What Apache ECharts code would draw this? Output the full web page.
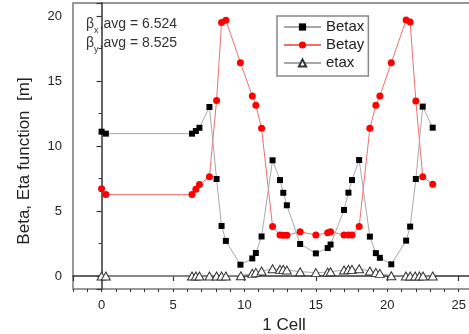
<!DOCTYPE html>
<html>
<head>
<meta charset="utf-8">
<script src="https://cdn.jsdelivr.net/npm/echarts@6/dist/echarts.min.js"></script>
<style>
  html, body { margin: 0; padding: 0; background: #fff; }
  #chart { width: 469px; height: 334px; }
</style>
</head>
<body>
<div id="chart"></div>
<script>
// Longitudinal positions along one cell [m]
const sPos = [0, 0.3, 6.33, 6.6, 6.85, 7.55, 8.05, 8.4, 8.7, 9.72, 10.55, 10.8, 11.2, 11.97,
  12.49, 12.72, 12.97, 13.9, 15.0, 15.83, 16.03, 16.97, 17.28, 17.53, 18.03, 18.78, 19.2,
  19.48, 20.28, 21.32, 21.6, 22.0, 22.48, 23.18];

// Horizontal beta function [m]
const betax = [11.1, 10.95, 10.95, 11.15, 11.4, 13.0, 7.46, 3.85, 2.7, 0.87, 1.35, 1.77, 3.04, 8.9,
  7.38, 6.4, 5.44, 2.46, 1.74, 2.15, 2.42, 5.08, 6.41, 7.38, 8.92, 3.03, 1.76,
  1.4, 0.9, 2.72, 3.8, 7.46, 13.03, 11.41];

// Vertical beta function [m]
const betay = [6.72, 6.26, 6.26, 6.67, 7.03, 7.64, 13.5, 19.5, 19.68, 16.4, 13.85, 13.13, 11.36, 3.8,
  3.15, 3.13, 3.13, 3.41, 3.15, 3.33, 3.41, 3.15, 3.15, 3.15, 3.8, 11.36, 13.13,
  13.85, 16.4, 19.7, 19.54, 13.46, 7.64, 7.05];

// Horizontal dispersion [m]
const etaPos = [0, 0.3, 6.33, 6.6, 6.85, 7.55, 8.05, 8.4, 8.7, 9.75, 10.55, 10.8, 11.2, 11.97,
  12.49, 12.72, 12.97, 13.9, 15.0, 15.83, 16.03, 16.97, 17.28, 17.53, 18.03, 18.78, 19.2,
  19.48, 20.28, 21.3, 21.6, 21.95, 22.25, 22.5, 23.18];
const etax = [0, 0, 0, 0, 0, 0, 0, 0, 0, 0.02, 0.2, 0.28, 0.38, 0.56,
  0.51, 0.51, 0.46, 0.33, 0.26, 0.3, 0.33, 0.46, 0.51, 0.51, 0.56, 0.38, 0.28,
  0.2, 0.02, 0, 0, 0, 0, 0, 0];

// Average beta values shown in the corner note
const avgBetaX = '6.524';
const avgBetaY = '8.525';

const pairs = (xs, ys) => xs.map((x, i) => [x, ys[i]]);

const FONT = '"Liberation Sans", Arial, sans-serif';
const AXIS_COLOR = '#333';

const chart = echarts.init(document.getElementById('chart'), null, { renderer: 'canvas' });

const fiveOnly = v => (Math.abs(v % 5) < 1e-9 ? String(v) : '');

chart.setOption({
  animation: false,
  backgroundColor: '#fff',
  grid: {
    left: 73, right: -4, top: 3, bottom: 45,
    containLabel: false, outerBoundsMode: 'none',
    show: true, borderColor: '#777', borderWidth: 1.5, backgroundColor: 'transparent'
  },
  legend: {
    orient: 'vertical',
    left: 277, top: 16,
    padding: [3, 4, 5, 6],
    itemWidth: 37, itemHeight: 9, itemGap: 2,
    borderColor: '#888', borderWidth: 1.5, backgroundColor: '#fff',
    textStyle: { fontFamily: FONT, fontSize: 15, color: '#222', lineHeight: 16 },
    data: ['Betax', 'Betay', 'etax']
  },
  xAxis: [{
    type: 'value', min: -2, max: 26,
    name: '1 Cell', nameLocation: 'middle', nameGap: 27,
    nameTextStyle: { fontFamily: FONT, fontSize: 17, color: '#222', padding: [0, 0, 0, 22] },
    axisLine: { lineStyle: { color: AXIS_COLOR, width: 1.5 } },
    axisTick: { length: 5, lineStyle: { color: AXIS_COLOR, width: 1.2 } },
    axisLabel: { fontFamily: FONT, fontSize: 13, color: '#222', margin: 10, formatter: fiveOnly },
    splitLine: { show: false }
  }, {
    // integer minor ticks along the bottom axis
    type: 'value', min: -2, max: 26, interval: 1, position: 'bottom',
    axisLine: { show: false },
    axisTick: { length: 3, lineStyle: { color: AXIS_COLOR, width: 1 } },
    axisLabel: { show: false },
    splitLine: { show: false }
  }],
  yAxis: {
    type: 'value', min: -1, max: 21,
    name: 'Beta, Eta function  [m]', nameLocation: 'middle', nameGap: 40,
    nameTextStyle: { fontFamily: FONT, fontSize: 17, color: '#222', padding: [0, 30, 0, 0] },
    axisLine: { lineStyle: { color: AXIS_COLOR, width: 1.5 } },
    axisTick: { length: 5, lineStyle: { color: AXIS_COLOR, width: 1.2 } },
    minorTick: { show: true, splitNumber: 2, length: 3, lineStyle: { color: AXIS_COLOR, width: 1 } },
    axisLabel: { fontFamily: FONT, fontSize: 13, color: '#222', margin: 11, formatter: fiveOnly },
    splitLine: { show: false }
  },
  series: [{
    name: 'Betax', type: 'line', xAxisIndex: 0,
    data: pairs(sPos, betax),
    symbol: 'rect', symbolSize: 6,
    itemStyle: { color: '#000' },
    lineStyle: { color: '#a8a8a8', width: 1 },
    z: 3
  }, {
    name: 'Betay', type: 'line', xAxisIndex: 0,
    data: pairs(sPos, betay),
    symbol: 'circle', symbolSize: 7,
    itemStyle: { color: '#ff0000' },
    lineStyle: { color: '#f07070', width: 1 },
    z: 2
  }, {
    name: 'etax', type: 'line', xAxisIndex: 0,
    data: pairs(etaPos, etax),
    symbol: 'triangle', symbolSize: [9, 8],
    itemStyle: { color: '#fff', borderColor: '#333', borderWidth: 1 },
    lineStyle: { color: '#a8a8a8', width: 1 },
    z: 4
  }],
  graphic: [{
    type: 'text', left: 86, top: 14,
    style: {
      text: '{b|β}{s|x}{t|,avg = ' + avgBetaX + '}\n{b|β}{s|y}{t|,avg = ' + avgBetaY + '}',
      fill: '#333',
      rich: {
        b: { fontFamily: FONT, fontSize: 14, fill: '#333', lineHeight: 19 },
        s: { fontFamily: FONT, fontSize: 9, fill: '#333', lineHeight: 19, padding: [12, 1, 0, 0] },
        t: { fontFamily: FONT, fontSize: 14, fill: '#333', lineHeight: 19 }
      }
    }
  }]
});
</script>
</body>
</html>
